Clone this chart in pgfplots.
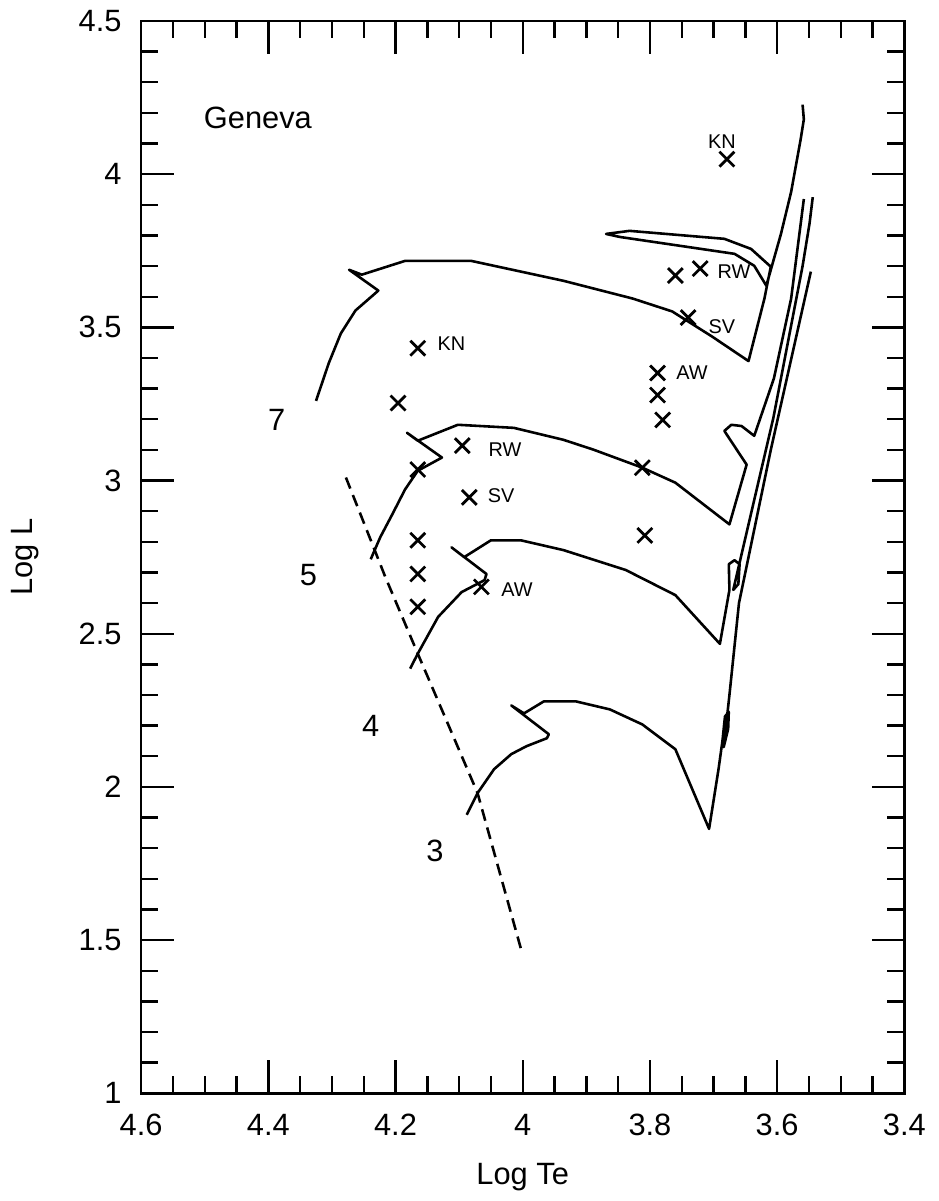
\documentclass[border=0pt]{standalone}
\usepackage{pgfplots}
\pgfplotsset{compat=1.18}
\usepackage{fontspec}
\setmainfont{Liberation Sans}
\begin{document}
\fontsize{15.5}{18.5}\selectfont
\begin{tikzpicture}
\begin{axis}[
  scale only axis, width=384pt, height=539.5pt,
  x dir=reverse, xmin=3.4, xmax=4.6, ymin=1, ymax=4.5,
  xtick={3.4,3.6,3.8,4,4.2,4.4,4.6}, minor x tick num=3,
  ytick={1,1.5,2,2.5,3,3.5,4,4.5}, minor y tick num=4,
  major tick length=16.5pt, minor tick length=8.5pt,
  every tick/.style={line width=1.2pt, black},
  axis line style={line width=1.3pt},
  /pgf/number format/assume math mode=true,
  xticklabel style={yshift=-5pt},
  yticklabel style={xshift=-4.5pt},
  xlabel={Log Te}, ylabel={Log L},
  xlabel style={at={(axis description cs:0.5,-0.078)},anchor=center},
  ylabel style={at={(axis description cs:-0.1516,0.5)},anchor=center},
  clip=false,
]
\coordinate (bl) at (axis description cs:-0.1849,-0.0975);
\coordinate (tr) at (axis description cs:1.0453,1.0195);
% 7 Msun
\addplot[black, line width=1.3pt, line join=round] coordinates {
(4.325,3.260) (4.305,3.383) (4.286,3.480) (4.263,3.555) (4.227,3.620)
(4.273,3.688) (4.253,3.672) (4.185,3.717) (4.081,3.717) (3.936,3.652)
(3.827,3.594) (3.765,3.552) (3.703,3.471) (3.645,3.390) (3.620,3.594)
(3.610,3.698) (3.641,3.756) (3.683,3.789) (3.832,3.815) (3.869,3.805)
(3.847,3.795) (3.667,3.740) (3.636,3.701) (3.617,3.636) (3.594,3.805)
(3.578,3.942) (3.563,4.114) (3.558,4.179) (3.560,4.227)};
% 5 Msun
\addplot[black, line width=1.3pt, line join=round] coordinates {
(4.239,2.743) (4.224,2.815) (4.205,2.890) (4.185,2.971) (4.165,3.032)
(4.127,3.075) (4.182,3.156) (4.165,3.130) (4.102,3.182) (4.014,3.172)
(3.936,3.133) (3.889,3.101) (3.812,3.042) (3.760,2.993) (3.675,2.857)
(3.648,3.052) (3.683,3.162) (3.672,3.182) (3.656,3.178) (3.636,3.146)
(3.605,3.334) (3.578,3.594) (3.558,3.919)};
% 4 Msun
\addplot[black, line width=1.3pt, line join=round] coordinates {
(4.177,2.386) (4.165,2.435) (4.133,2.555) (4.096,2.636) (4.060,2.675)
(4.057,2.695) (4.112,2.782) (4.092,2.750) (4.050,2.805) (4.003,2.805)
(3.936,2.773) (3.838,2.708) (3.760,2.626) (3.690,2.467) (3.675,2.643)
(3.676,2.727) (3.667,2.740) (3.659,2.727) (3.661,2.662) (3.669,2.643)
(3.606,3.204) (3.560,3.700) (3.549,3.840) (3.544,3.925)};
% 3 Msun
\addplot[black, line width=1.3pt, line join=round] coordinates {
(4.088,1.909) (4.071,1.980) (4.045,2.058) (4.018,2.107) (3.994,2.133)
(3.962,2.159) (3.959,2.172) (4.018,2.266) (3.998,2.240) (3.967,2.279)
(3.916,2.279) (3.863,2.253) (3.812,2.204) (3.760,2.123) (3.707,1.863)
(3.692,2.060) (3.686,2.150) (3.682,2.230) (3.676,2.245) (3.677,2.190)
(3.684,2.130) (3.675,2.300) (3.660,2.600) (3.610,3.100) (3.547,3.682)};
% dashed line
\addplot[black, line width=1.3pt, dash pattern=on 6pt off 3.5pt] coordinates {
(4.278,3.010) (4.216,2.685) (4.165,2.435) (4.071,1.980) (4.001,1.458)};
% observed stars
\addplot[only marks, mark=x, mark size=5.3pt, mark options={line width=1.4pt, black}] coordinates {
(3.679,4.049) (3.760,3.669) (3.721,3.692) (3.740,3.532) (3.788,3.351)
(3.788,3.279) (3.780,3.198) (3.812,3.042) (3.808,2.821)
(4.165,3.432) (4.196,3.253) (4.095,3.114) (4.165,3.036) (4.084,2.945)
(4.165,2.805) (4.165,2.695) (4.165,2.588) (4.065,2.653)};
% labels
\node[font=\fontsize{10}{12}\selectfont] at (axis cs:3.687,4.107) {KN};
\node[font=\fontsize{10}{12}\selectfont] at (axis cs:3.668,3.682) {RW};
\node[font=\fontsize{10}{12}\selectfont] at (axis cs:3.687,3.503) {SV};
\node[font=\fontsize{10}{12}\selectfont] at (axis cs:3.734,3.351) {AW};
\node[font=\fontsize{10}{12}\selectfont] at (axis cs:4.112,3.448) {KN};
\node[font=\fontsize{10}{12}\selectfont] at (axis cs:4.028,3.101) {RW};
\node[font=\fontsize{10}{12}\selectfont] at (axis cs:4.034,2.951) {SV};
\node[font=\fontsize{10}{12}\selectfont] at (axis cs:4.009,2.643) {AW};
\node[anchor=west] at (axis cs:4.518,4.185) {Geneva};
\node at (axis cs:4.387,3.198) {7};
\node at (axis cs:4.337,2.692) {5};
\node at (axis cs:4.239,2.198) {4};
\node at (axis cs:4.138,1.792) {3};
\end{axis}
\path (bl) rectangle (tr);
\end{tikzpicture}
\end{document}
